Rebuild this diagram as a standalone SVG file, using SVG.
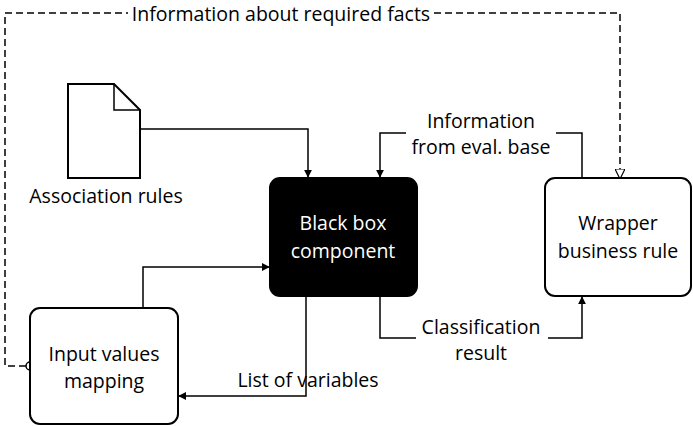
<svg xmlns="http://www.w3.org/2000/svg" width="693" height="426" viewBox="0 0 693 426">
<style>
text{font-family:"Open Sans","Liberation Sans",sans-serif;font-size:19.5px;text-anchor:middle;fill:#000}
.l{fill:none;stroke:#000;stroke-width:1.5}
.box{fill:#fff;stroke:#000;stroke-width:2}
.bg{fill:#fff}
</style>
<defs>
<marker id="a" viewBox="0 0 10 10" refX="9" refY="5" markerWidth="8" markerHeight="8" markerUnits="userSpaceOnUse" orient="auto"><path d="M0,0L10,5L0,10z" fill="#000"/></marker>
<marker id="t" viewBox="0 0 10 10" refX="9" refY="5" markerWidth="10" markerHeight="10" markerUnits="userSpaceOnUse" orient="auto"><path d="M0,0L10,5L0,10z" fill="#fff" stroke="#000" stroke-width="1.2"/></marker>
</defs>
<g id="connectors">
<path class="l" stroke-dasharray="7,4" d="M26,366H5V13H620V178" marker-end="url(#t)"/>
<circle cx="30" cy="366" r="4" fill="#fff" stroke="#000" stroke-width="1.5"/>
<rect class="bg" x="128" y="4" width="306" height="22"/>
<text x="281" y="21">Information about required facts</text>
<path class="l" d="M140,129H308V177" marker-end="url(#a)"/>
<path class="l" d="M143,308V267H269" marker-end="url(#a)"/>
<path class="l" d="M306,296V396H179" marker-end="url(#a)"/>
<text x="308" y="387">List of variables</text>
<path class="l" d="M380,296V338H582V297" marker-end="url(#a)"/>
<rect class="bg" x="416" y="314" width="132" height="52"/>
<text x="481" y="334">Classification</text>
<text x="481" y="360">result</text>
<path class="l" d="M582,178V133H380V177" marker-end="url(#a)"/>
<rect class="bg" x="406" y="108" width="150" height="52"/>
<text x="481" y="128">Information</text>
<text x="481" y="154">from eval. base</text>
</g>
<g id="doc">
<path class="box" d="M68,84H114L140,110V178H68Z"/>
<path class="l" d="M114,84V110H140" stroke-width="2"/>
<text x="106" y="203">Association rules</text>
</g>
<g id="blackbox">
<rect x="270" y="178" width="147" height="118" rx="10" fill="#000" stroke="#000" stroke-width="2"/>
<text x="343" y="230" style="fill:#fff">Black box</text>
<text x="343" y="258" style="fill:#fff">component</text>
</g>
<g id="wrapper">
<rect class="box" x="545" y="178" width="146" height="118" rx="10"/>
<text x="618" y="230">Wrapper</text>
<text x="618" y="258">business rule</text>
</g>
<g id="input">
<rect class="box" x="30" y="308" width="148" height="116" rx="10"/>
<text x="104" y="361">Input values</text>
<text x="104" y="388">mapping</text>
</g>
</svg>
